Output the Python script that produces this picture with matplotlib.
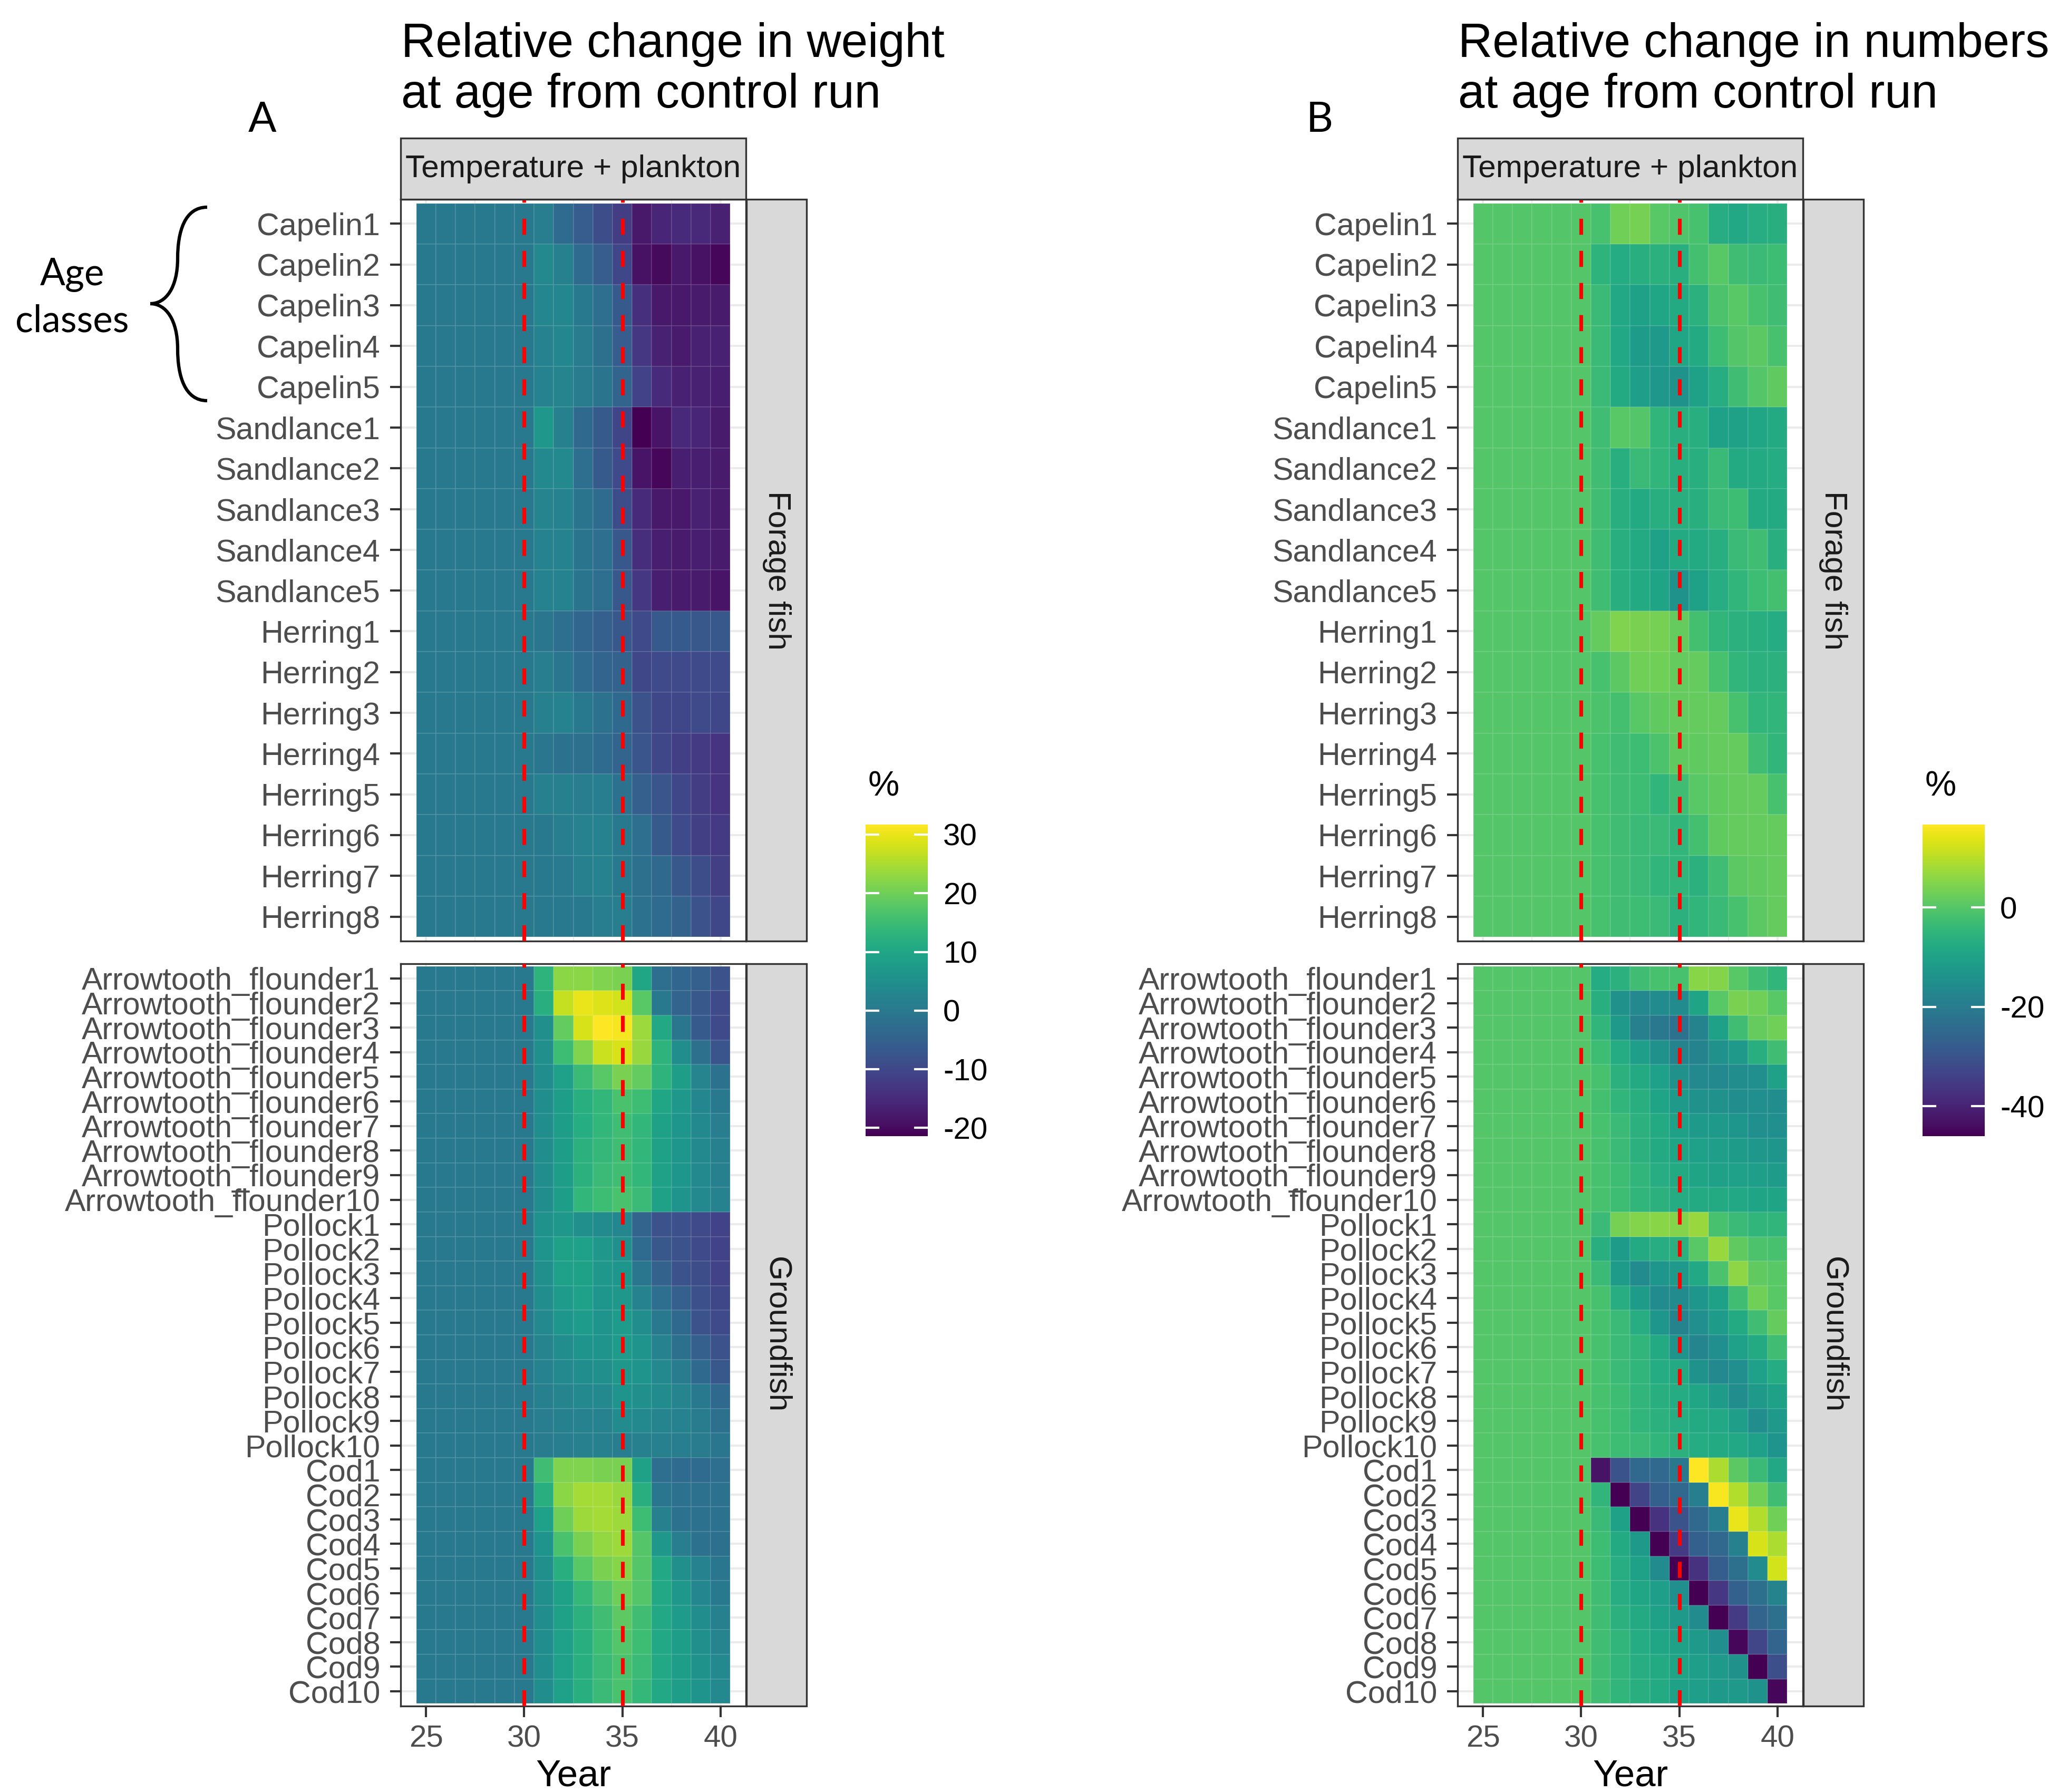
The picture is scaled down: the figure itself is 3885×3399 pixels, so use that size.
import numpy as np
import matplotlib
matplotlib.use("Agg")
import matplotlib.pyplot as plt
from matplotlib.colors import Normalize
from matplotlib.cm import ScalarMappable
from matplotlib.path import Path
from matplotlib.patches import PathPatch, Rectangle

plt.rcParams['font.family'] = ['Liberation Sans', 'DejaVu Sans']
plt.rcParams['axes.unicode_minus'] = False

# ---------------- data ----------------
years = [25, 26, 27, 28, 29, 30, 31, 32, 33, 34, 35, 36, 37, 38, 39, 40]

forage_labels = ["Capelin1", "Capelin2", "Capelin3", "Capelin4", "Capelin5",
                 "Sandlance1", "Sandlance2", "Sandlance3", "Sandlance4", "Sandlance5",
                 "Herring1", "Herring2", "Herring3", "Herring4", "Herring5",
                 "Herring6", "Herring7", "Herring8"]

ground_labels = ["Arrowtooth_flounder1", "Arrowtooth_flounder2", "Arrowtooth_flounder3",
                 "Arrowtooth_flounder4", "Arrowtooth_flounder5", "Arrowtooth_flounder6",
                 "Arrowtooth_flounder7", "Arrowtooth_flounder8", "Arrowtooth_flounder9",
                 "Arrowtooth_flounder10",
                 "Pollock1", "Pollock2", "Pollock3", "Pollock4", "Pollock5",
                 "Pollock6", "Pollock7", "Pollock8", "Pollock9", "Pollock10",
                 "Cod1", "Cod2", "Cod3", "Cod4", "Cod5", "Cod6", "Cod7", "Cod8", "Cod9", "Cod10"]

# Relative change in weight at age (%), rows = age classes, columns = years
weight_forage = [
    [0, 0, 0, 0, 0, 0, 1, -3, -6, -9, -12, -18, -16, -15, -15.5, -16.5],
    [0, 0, 0, 0, 0, 0, 3.5, 1.5, -3, -6, -10, -19, -20, -18, -19, -20.5],
    [0, 0, 0, 0, 0, 0, 3, 3, 0, -2.5, -6.5, -14, -18, -18, -17.5, -17.5],
    [0, 0, 0, 0, 0, 0, 2, 3, 0.5, -2, -6, -13, -16.5, -17.5, -16.5, -16.5],
    [0, 0, 0, 0, 0, 0, 2, 2.5, 0.5, -1, -4.5, -11, -15, -16.5, -16.5, -17],
    [0, 0, 0, 0, 0, 0, 7, 1.5, -3.5, -6.5, -10.5, -21.4, -18.5, -15.5, -16, -17.5],
    [0, 0, 0, 0, 0, 0, 3.5, 3.5, -2.5, -6.5, -9.5, -18.5, -20.5, -17, -17, -17.5],
    [0, 0, 0, 0, 0, 0, 2.5, 2, -1, -3, -9, -15, -18, -18, -16.5, -17.5],
    [0, 0, 0, 0, 0, 0, 2, 2, -1, -2.5, -7, -14.5, -17, -17.5, -17, -17.5],
    [0, 0, 0, 0, 0, 0, 2, 2, -1, -2.5, -7, -13, -17, -17.5, -17.5, -18.5],
    [0, 0, 0, 0, 0, 0, -0.5, -2.5, -4, -5.5, -7, -9.5, -6.5, -6.5, -7, -7],
    [0, 0, 0, 0, 0, 0, 1, -0.5, -3, -4.5, -5, -10, -9.5, -9.5, -9.5, -9.5],
    [0, 0, 0, 0, 0, 0, 1.5, 2, 0, -1.5, -3.5, -8, -10, -10, -9.5, -10],
    [0, 0, 0, 0, 0, 0, -0.5, -1.5, -2, -3, -4.5, -7.5, -10, -11.5, -12.5, -13.5],
    [0, 0, 0, 0, 0, 0, 1.5, 1.5, 1, 1, -1.5, -5.5, -7.5, -10, -12, -13.5],
    [0, 0, 0, 0, 0, 0, 0, 1, 2, 2, 0, -2.5, -6.5, -9.5, -11.5, -12.5],
    [0, 0, 0, 0, 0, 0, 0, 0.3, 1.5, 2, 0, -2, -3.5, -7, -9, -11.5],
    [0, 0, 0, 0, 0, 0, 0, 0, 0, 1, 1, -1.5, -3, -5, -8, -10],
]

weight_ground = [
    [0, 0, 0, 0, 0, 0, 13, 22.5, 22.5, 21.5, 21, 10, -2.5, -4, -5.5, -8],
    [0, 0, 0, 0, 0, 0, 12, 27, 30, 29, 28, 18, 0, -4.5, -7, -9.5],
    [0, 0, 0, 0, 0, 0, 5, 19, 28.5, 31.7, 31, 23.7, 10.5, -0.5, -6.5, -9.5],
    [0, 0, 0, 0, 0, 0, 5, 15, 21.5, 27.5, 28.5, 23.5, 13, 4.5, -2, -7.5],
    [0, 0, 0, 0, 0, 0, 4.5, 8.5, 14.5, 18, 21, 19, 13, 8, 2.5, -1.5],
    [0, 0, 0, 0, 0, 0, 4.5, 8, 12, 13.5, 16.5, 15, 10, 7, 3, 0],
    [0, 0, 0, 0, 0, 0, 4.5, 8, 11.5, 13.5, 15.5, 13.5, 9, 6.5, 3.5, 1],
    [0, 0, 0, 0, 0, 0, 4.5, 8, 12.5, 14, 15.5, 13.5, 9, 6.5, 3.5, 1.5],
    [0, 0, 0, 0, 0, 0, 4.5, 8, 12.5, 14.5, 15.5, 13.5, 9, 6.5, 3.5, 1.5],
    [0, 0, 0, 0, 0, 0, 4.5, 8, 13.5, 15, 16.5, 14.5, 9, 6, 3.5, 2],
    [0, 0, 0, 0, 0, 0, 5.5, 7, 5, 4, 3, -4.5, -8, -8.5, -9.5, -11],
    [0, 0, 0, 0, 0, 0, 6, 9, 8.5, 7, 5, -3, -7, -8, -9.5, -11],
    [0, 0, 0, 0, 0, 0, 5, 8.5, 9, 7, 6.5, -0.5, -5, -8, -9, -11],
    [0, 0, 0, 0, 0, 0, 4.5, 7.5, 8.5, 6.5, 7, 2, -2.5, -5.5, -8.5, -10],
    [0, 0, 0, 0, 0, 0, 3.5, 6.5, 7.5, 6, 7.5, 4.5, 0, -3.5, -8, -9.5],
    [0, 0, 0, 0, 0, 0, 2.5, 4.5, 6, 6, 7.5, 6, 2, -2, -5.5, -8],
    [0, 0, 0, 0, 0, 0, 2, 3.5, 4.5, 5, 7, 6, 3.5, 0.5, -3.5, -7],
    [0, 0, 0, 0, 0, 0, 1.5, 2.5, 3.5, 3.5, 6, 5, 4, 2.5, 0, -3.5],
    [0, 0, 0, 0, 0, 0, 1, 1.5, 2, 2, 4, 3.5, 2.5, 2, 0.5, -2],
    [0, 0, 0, 0, 0, 0, 0.5, 1, 1.5, 1.5, 1, 1.5, 1.5, 1, 0.5, -0.5],
    [0, 0, 0, 0, 0, 0, 15.5, 21.5, 21.5, 21, 21, 9, -2.5, -3, -3, -2.5],
    [0, 0, 0, 0, 0, 0, 12, 22.5, 24.5, 24.5, 23.5, 12, -0.5, -1.5, -1.5, -1.5],
    [0, 0, 0, 0, 0, 0, 8.5, 20, 24, 24.5, 24, 15, 1.5, -1.5, -1.5, -1.5],
    [0, 0, 0, 0, 0, 0, 6, 16.5, 21, 23, 24, 17.5, 7, 1, -1.5, -2],
    [0, 0, 0, 0, 0, 0, 5, 12, 18, 21, 22, 17.5, 10.5, 5, 2, -0.5],
    [0, 0, 0, 0, 0, 0, 5, 9, 14, 17.5, 20, 17.5, 10.5, 7, 3, 0],
    [0, 0, 0, 0, 0, 0, 4.5, 9, 12.5, 15.5, 18.5, 15.5, 10.5, 7.5, 4.5, 1.5],
    [0, 0, 0, 0, 0, 0, 4.5, 8.5, 12, 15, 17.5, 15, 10.5, 8, 5, 2.5],
    [0, 0, 0, 0, 0, 0, 4.5, 8.5, 12, 14.5, 16.5, 14.5, 10.5, 8, 5.5, 3.5],
    [0, 0, 0, 0, 0, 0, 4.5, 8.5, 12, 14.5, 16.5, 14, 10.5, 8, 6, 3.5],
]

# Relative change in numbers at age (%)
numbers_forage = [
    [0, 0, 0, 0, 0, 0, -1.5, 3, 3.5, 0.5, -0.5, -1.5, -7, -8.5, -7, -6.5],
    [0, 0, 0, 0, 0, 0, -5.5, -7.5, -6.5, -6, -6.5, -2, 0.5, -2.5, -3.5, -3],
    [0, 0, 0, 0, 0, 0, -3.5, -8.5, -10, -9, -8, -6, -1, 0.5, -1.5, -2.5],
    [0, 0, 0, 0, 0, 0, -3.5, -8.5, -11.5, -12, -9, -8, -3, 0, 1, -1.5],
    [0, 0, 0, 0, 0, 0, -3.5, -8, -11, -12.5, -14, -10, -7, -2.5, 0, 1.5],
    [0, 0, 0, 0, 0, 0, -2.5, 0.5, 0, -5, -6.5, -6.5, -10, -10, -9, -8],
    [0, 0, 0, 0, 0, 0, -2.5, -6.5, -3.5, -5, -6.5, -6.5, -3.5, -8, -8, -7.5],
    [0, 0, 0, 0, 0, 0, -2.5, -6.5, -8, -6.5, -6.5, -6.5, -3.5, -3, -8, -8],
    [0, 0, 0, 0, 0, 0, -2.5, -6.5, -8, -10, -8, -8, -6.5, -3.5, -2.5, -6.5],
    [0, 0, 0, 0, 0, 0, -2.5, -6.5, -8, -9.5, -14, -10, -7, -5, -3, -2],
    [0, 0, 0, 0, 0, 0, 2, 4.5, 4, 3.5, 2, -2, -5, -6, -6.5, -7.5],
    [0, 0, 0, 0, 0, 0, -1.5, 1, 3, 3, 2, 2, -1.5, -5, -6, -6],
    [0, 0, 0, 0, 0, 0, -1, -2, 0.5, 1.5, 2, 2, 2, -1.5, -5, -5],
    [0, 0, 0, 0, 0, 0, -1.5, -2.5, -3, -1, 1.5, 1.5, 2, 2, -2.5, -5],
    [0, 0, 0, 0, 0, 0, -1.5, -2.5, -3, -5, -2.5, 0.5, 1.5, 2, 2, -1.5],
    [0, 0, 0, 0, 0, 0, -1.5, -2.5, -3.5, -3.5, -5, -2, 1.5, 2, 2, 2],
    [0, 0, 0, 0, 0, 0, -1.5, -2.5, -3.5, -5, -5, -6, -2.5, 1, 1.5, 2],
    [0, 0, 0, 0, 0, 0, -1.5, -2.5, -3, -3.5, -6, -5, -3.5, -1.5, 1, 2],
]

numbers_ground = [
    [0, 0, 0, 0, 0, 0, -7.5, -6, -2.5, -1.5, -1.5, 5.5, 5, 0.5, -2.5, -5],
    [0, 0, 0, 0, 0, 0, -6.5, -14.5, -16.5, -16, -16, -9.5, 0.5, 4, 3, 0.5],
    [0, 0, 0, 0, 0, 0, -5, -12, -19, -21, -22.5, -18, -10, -2.5, 2, 3],
    [0, 0, 0, 0, 0, 0, -3, -7.5, -11, -14.5, -18, -18, -14.5, -12, -6.5, -2.5],
    [0, 0, 0, 0, 0, 0, -1.5, -6, -8, -10.5, -14.5, -16.5, -16.5, -15.5, -15, -10],
    [0, 0, 0, 0, 0, 0, -2, -5, -6.5, -9.5, -12, -14.5, -14.5, -15.5, -15, -15.5],
    [0, 0, 0, 0, 0, 0, -1.5, -3.5, -6, -8, -10, -12, -12, -13, -15, -15],
    [0, 0, 0, 0, 0, 0, -1.5, -3.5, -6, -8, -9.5, -10.5, -11, -11.5, -12.5, -13],
    [0, 0, 0, 0, 0, 0, -1.5, -3, -5, -7, -8, -9.5, -10, -10.5, -11, -11.5],
    [0, 0, 0, 0, 0, 0, -1.5, -3, -5, -6, -7.5, -8, -8, -8.5, -9.5, -9.5],
    [0, 0, 0, 0, 0, 0, -3.5, 3.5, 5, 5.5, 5, 7, -1.5, -3.5, -5, -5],
    [0, 0, 0, 0, 0, 0, -6.5, -11.5, -8, -7, -6, 0.5, 7, 1.5, -1, -1.5],
    [0, 0, 0, 0, 0, 0, -3.5, -11.5, -16, -13, -12, -8.5, -1, 6, 1.5, 0.5],
    [0, 0, 0, 0, 0, 0, -1.5, -7, -11.5, -16, -16, -13, -10, -2.5, 3, 0.5],
    [0, 0, 0, 0, 0, 0, -1.5, -3.5, -7, -13, -18, -15, -11.5, -8, -2.5, 2],
    [0, 0, 0, 0, 0, 0, -1.5, -3.5, -5, -8, -13.5, -17.5, -15, -10.5, -8, -2.5],
    [0, 0, 0, 0, 0, 0, -1.5, -3.5, -5, -7.5, -8, -14, -16.5, -15, -10.5, -7.5],
    [0, 0, 0, 0, 0, 0, -1.5, -3, -5, -6.5, -7.5, -9, -11.5, -15.5, -12, -10],
    [0, 0, 0, 0, 0, 0, -1.5, -3, -5, -6, -7, -8, -8.5, -11, -15.5, -12],
    [0, 0, 0, 0, 0, 0, -1.5, -3, -3.5, -5, -6, -7.5, -8, -8.5, -10.5, -13.5],
    [0, 0, 0, 0, 0, 0, -43, -30, -25, -25, -21, 16.7, 9, 1, -3.5, -8.5],
    [0, 0, 0, 0, 0, 0, -5, -46, -33.5, -27, -25, -19.5, 16, 9.5, 3, -2.5],
    [0, 0, 0, 0, 0, 0, -3.5, -10, -46, -37, -30, -25, -19.5, 14.5, 9.5, 3],
    [0, 0, 0, 0, 0, 0, -3, -8, -12, -46, -35, -27, -25, -19, 13, 9],
    [0, 0, 0, 0, 0, 0, -3, -7, -10, -16, -46, -37, -27.5, -23, -16, 12.5],
    [0, 0, 0, 0, 0, 0, -2.5, -7, -9, -11, -15, -46, -36, -27, -23, -18],
    [0, 0, 0, 0, 0, 0, -2.5, -6, -8, -10, -12, -16, -46, -35, -26, -23],
    [0, 0, 0, 0, 0, 0, -2.5, -5, -7.5, -9, -10, -12, -15, -45, -33, -26],
    [0, 0, 0, 0, 0, 0, -2.5, -5, -7, -8, -9.5, -11, -12, -14.5, -46, -31],
    [0, 0, 0, 0, 0, 0, -2.5, -5, -6.5, -8, -10, -11, -12, -12, -14, -45],
]

scenario_lines = [30, 35]
x_ticks = [25, 30, 35, 40]
x_minor = [27.5, 32.5, 37.5]
weight_cticks = [-20, -10, 0, 10, 20, 30]
numbers_cticks = [-40, -20, 0]
weight_range = (-21.4, 31.7)
numbers_range = (-46.0, 16.7)

# ---------------- layout helpers (pixel coords, y down) ----------------
W, H = 3885, 3399
DPI = 300
fig = plt.figure(figsize=(W / DPI, H / DPI), dpi=DPI)
fig.patch.set_facecolor('white')


def fx(px):
    return px / W


def fy(py):
    return 1 - py / H


def axes_px(x0, y0, x1, y1):
    return fig.add_axes([x0 / W, 1 - y1 / H, (x1 - x0) / W, (y1 - y0) / H])


def rect_px(x0, y0, x1, y1, **kw):
    r = Rectangle((fx(x0), fy(y1)), (x1 - x0) / W, (y1 - y0) / H,
                  transform=fig.transFigure, **kw)
    fig.add_artist(r)
    return r


cmap = plt.get_cmap('viridis')
GRID = '#ebebeb'
BORDER = '#333333'
STRIP = '#d9d9d9'
TICKLAB = '#4d4d4d'


def heat_axis(x0, y0, x1, y1, labels, values, norm, bottom):
    ax = axes_px(x0, y0, x1, y1)
    n = len(labels)
    xe = np.concatenate([np.array(years) - 0.5, [years[-1] + 0.5]])
    ye = np.arange(n + 1) + 0.5
    ax.set_axisbelow(True)
    ax.pcolormesh(xe, ye, np.array(values, dtype=float), cmap=cmap, norm=norm,
                  edgecolors=(1, 1, 1, 0.10), linewidth=0.4, zorder=1)
    for xv in scenario_lines:
        ax.axvline(xv, color='red', lw=1.7, ls=(0, (4.3, 4.3)), zorder=5)
    ax.set_xlim(23.7, 41.3)
    ax.set_ylim(n + 0.6, 0.4)
    ax.set_yticks(np.arange(1, n + 1))
    ax.set_yticklabels(labels)
    ax.set_xticks(x_ticks)
    ax.set_xticks(x_minor, minor=True)
    ax.grid(which='major', color=GRID, lw=1.0)
    ax.grid(which='minor', axis='x', color=GRID, lw=0.5)
    ax.tick_params(which='minor', length=0)
    ax.tick_params(axis='y', length=4.8, width=1.0, color=BORDER, pad=4.5,
                   labelsize=14.2, labelcolor=TICKLAB)
    if bottom:
        ax.tick_params(axis='x', length=5.0, width=1.0, color=BORDER, pad=3.6,
                       labelsize=14, labelcolor=TICKLAB)
    else:
        ax.tick_params(axis='x', length=0, labelbottom=False)
    for s in ax.spines.values():
        s.set_color(BORDER)
        s.set_linewidth(0.8)
    return ax


def draw_panel(ox, title1, title2, letter, forage_vals, ground_vals, vrange, cticks):
    norm = Normalize(vrange[0], vrange[1])
    px0, px1 = 760 + ox, 1415 + ox
    heat_axis(px0, 378, px1, 1785, forage_labels, forage_vals, norm, False)
    heat_axis(px0, 1828, px1, 3236, ground_labels, ground_vals, norm, True)

    # top strip
    rect_px(px0, 262, px1, 378, facecolor=STRIP, edgecolor=BORDER, lw=0.8)
    fig.text(fx((px0 + px1) / 2), fy(320), "Temperature + plankton", ha='center',
             va='center', fontsize=14.5, color='#1a1a1a')
    # right strips
    for (y0, y1, lab) in [(378, 1785, "Forage fish"), (1828, 3236, "Groundfish")]:
        rect_px(px1 + 1, y0, px1 + 115, y1, facecolor=STRIP, edgecolor=BORDER, lw=0.8)
        fig.text(fx(px1 + 58), fy((y0 + y1) / 2), lab, ha='center', va='center',
                 rotation=270, fontsize=14.5, color='#1a1a1a')

    # titles
    fig.text(fx(px0 + 1), fy(108), title1, ha='left', va='baseline', fontsize=21.7,
             color='black')
    fig.text(fx(px0 + 1), fy(204), title2, ha='left', va='baseline', fontsize=21.7,
             color='black')
    fig.text(fx(498 + ox), fy(250), letter, ha='center', va='baseline', fontsize=19,
             family=['Lato', 'DejaVu Sans'], color='black')
    fig.text(fx((px0 + px1) / 2), fy(3388), "Year", ha='center', va='baseline',
             fontsize=17, color='black')

    # colorbar
    cax = axes_px(1642 + ox, 1564, 1760 + ox, 2155)
    sm = ScalarMappable(norm=norm, cmap=cmap)
    cb = fig.colorbar(sm, cax=cax)
    cb.outline.set_visible(False)
    cb.set_ticks(cticks)
    cb.set_ticklabels([str(t) for t in cticks])
    cax.tick_params(length=0, labelsize=14, pad=7, labelcolor='black')
    tr = cax.get_yaxis_transform()
    for t in cticks:
        cax.plot([0, 0.2], [t, t], color='white', lw=1.0, transform=tr, zorder=5)
        cax.plot([0.8, 1.0], [t, t], color='white', lw=1.0, transform=tr, zorder=5)
    fig.text(fx(1647 + ox), fy(1493), "%", ha='left', va='center', fontsize=16,
             color='black')


draw_panel(0, "Relative change in weight", "at age from control run", "A",
           weight_forage, weight_ground, weight_range, weight_cticks)
draw_panel(2005, "Relative change in numbers", "at age from control run", "B",
           numbers_forage, numbers_ground, numbers_range, numbers_cticks)

# "Age classes" annotation with curly brace
fig.text(fx(137), fy(541), "Age", ha='center', va='baseline', fontsize=17,
         family=['Lato', 'DejaVu Sans'], color='black')
fig.text(fx(137), fy(630), "classes", ha='center', va='baseline', fontsize=17,
         family=['Lato', 'DejaVu Sans'], color='black')
brace_px = [(393, 393), (350, 393), (337, 440), (337, 490),
            (337, 545), (315, 576), (285, 576),
            (315, 576), (337, 607), (337, 662),
            (337, 712), (350, 760), (393, 760)]
codes = [Path.MOVETO] + [Path.CURVE4] * 12
brace = Path([(fx(x), fy(y)) for x, y in brace_px], codes)
fig.add_artist(PathPatch(brace, transform=fig.transFigure, facecolor='none',
                         edgecolor='black', lw=1.5, capstyle='butt'))

fig.savefig("out.png", dpi=DPI, facecolor='white')
